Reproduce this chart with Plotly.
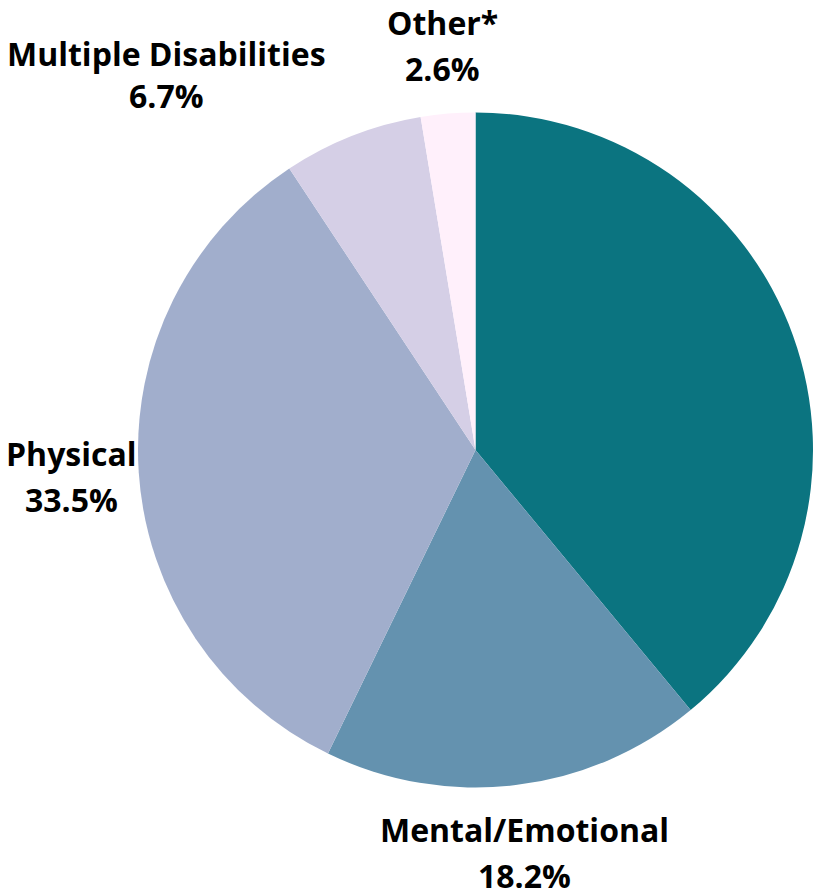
import math
import plotly.graph_objects as go

categories = ["Sensory", "Mental/Emotional", "Physical", "Multiple Disabilities", "Other*"]
percents = [39.0, 18.2, 33.5, 6.7, 2.6]
colors = ["#0B7480", "#6492AF", "#A1AECC", "#D5CFE6", "#FFF0FB"]

W, H = 813, 890
cx, cy, r = 476, 450, 338

fig = go.Figure(go.Pie(
    labels=categories,
    values=percents,
    marker=dict(colors=colors, line=dict(width=0)),
    sort=False,
    direction="clockwise",
    rotation=0,
    textinfo="none",
    hoverinfo="label+percent",
    showlegend=False,
    domain=dict(x=[(cx - r) / W, 1.0], y=[(H - (cy + r)) / H, (H - (cy - r)) / H]),
))

# label placement from each slice's mid angle
total = sum(percents)
cum = 0.0
label_r = r * 1.2
font = dict(family="Open Sans", size=32, color="#000000")
for name, v in zip(categories, percents):
    mid = (cum + v / 2) / total * 2 * math.pi
    cum += v
    px = cx + label_r * math.sin(mid)
    py = cy - label_r * math.cos(mid)
    if px > W - 20:
        continue
    pct = f"{v:.1f}%"
    # keep labels of small top-left slices from overlapping neighbours
    if math.sin(mid) < -0.3 and math.cos(mid) > 0.5:
        fig.add_annotation(
            x=px / W, y=1 - py / H, xref="paper", yref="paper",
            text=f"<b>{name}</b><br><b>{pct}</b>", showarrow=False,
            xanchor="right", yanchor="middle", align="center", yshift=-2,
            font=font,
        )
        continue
    for txt, shift in ((name, 23), (pct, -23)):
        fig.add_annotation(
            x=px / W, y=1 - py / H, xref="paper", yref="paper",
            text=f"<b>{txt}</b>", showarrow=False,
            xanchor="center", yanchor="middle", yshift=shift,
            font=font,
        )

fig.update_layout(
    width=W, height=H,
    margin=dict(l=0, r=0, t=0, b=0),
    paper_bgcolor="white", plot_bgcolor="white",
)
fig.write_html(
    "out.html",
    config={"displayModeBar": False},
    post_script="document.body.style.margin='0';document.body.style.overflow='hidden';",
)
